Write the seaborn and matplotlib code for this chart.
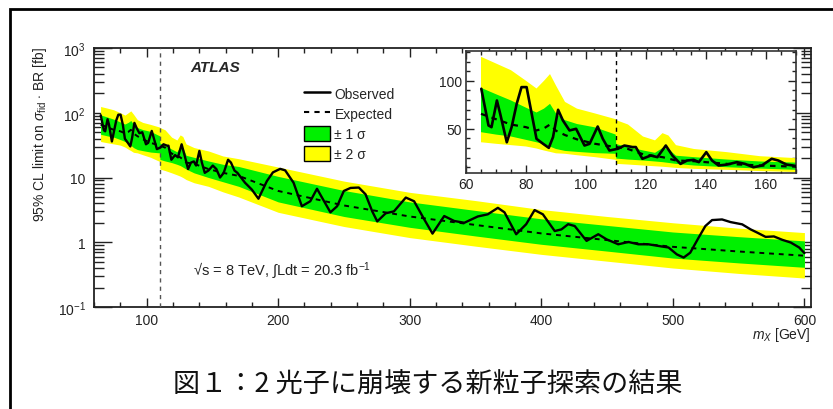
import matplotlib
matplotlib.use("Agg")
import matplotlib.pyplot as plt
import seaborn as sns
import pandas as pd
from matplotlib.lines import Line2D
from matplotlib.patches import Patch, Rectangle
from matplotlib.ticker import FixedLocator, LogLocator, MultipleLocator, NullFormatter

# === data ===
# band edges / expected limit [fb] vs mass [GeV]
band_mass = [65, 70, 75, 80, 83.5, 86, 88, 90, 93, 97, 103, 109.9, 110.1, 114, 119, 123,
             125.5, 127.5, 130, 136, 147, 158, 170, 200, 250, 300, 350, 400, 450, 500, 550, 600]
expected = [65.6, 60, 54.5, 51.7, 48.3, 50.5, 54.5, 48, 43.5, 39, 34.4, 31, 31, 29, 23.5, 21.5,
            20.5, 19, 17, 16.3, 13.5, 11.8, 10.6, 6.2, 3.7, 2.5, 1.85, 1.37, 1.08, 0.85, 0.72, 0.62]
sig1_hi = [92.7, 86, 79.5, 72, 67, 71, 76, 66, 59, 55, 51.5, 44, 34, 31, 27.5, 25,
           30, 29, 22, 20.5, 18, 16, 14.8, 10.4, 6.3, 4.2, 3.1, 2.3, 1.82, 1.44, 1.22, 1.05]
sig1_lo = [46.5, 44, 42, 38.5, 36, 34, 31.5, 29, 27, 26, 24.7, 24, 19, 18, 17, 16,
           15.3, 14.5, 13.5, 11.8, 10, 8.6, 7.3, 4.2, 2.5, 1.7, 1.25, 0.93, 0.73, 0.57, 0.48, 0.41]
sig2_hi = [125, 118, 111, 100, 92, 100, 107, 95, 78, 71, 66, 60, 59, 54.5, 42, 38,
           45.5, 43, 33, 29, 25.7, 21.5, 19.5, 14.5, 8.8, 5.9, 4.4, 3.2, 2.5, 2.0, 1.65, 1.41]
sig2_lo = [36, 34.4, 33, 31.6, 29.5, 27.4, 26, 24.5, 24, 22.5, 20.5, 17.7, 13.5, 12.8, 11.8, 11,
           10.5, 10, 9.3, 8.3, 7.3, 6, 5, 2.9, 1.75, 1.18, 0.87, 0.65, 0.51, 0.40, 0.33, 0.28]

obs_mass = [65.1, 67.5, 68.5, 70.3, 71.4, 73.6, 75.2, 76.9, 78.5, 80.2, 81.9, 83.5, 85.7, 87.6,
            89.0, 90.7, 92.3, 94.5, 96.7, 99.5, 101.2, 103.9, 105.6, 107.8, 110.6, 112.8, 115.5,
            116.6, 118.8, 121.6, 123.8, 126.6, 128.8, 131.5, 133.7, 135.9, 137.6, 140.1, 142.0,
            144.2, 147.0, 150.3, 153.0, 155.8, 158.6, 161.9, 164.1, 166.8, 169.0,
            174.8, 180, 185, 191.4, 196, 201.5, 205.3, 211.7, 218, 224.4, 229.5, 233.3, 239.7,
            244.8, 249.9, 255, 261.3, 266.4, 271.5, 275.3, 281.7, 288, 297, 303.3, 311, 317.3,
            326.2, 333.8, 341.5, 351.7, 359.3, 367, 372, 380.9, 388.5, 394.9, 401.2, 410.2,
            415.3, 420.4, 425.4, 434.4, 443.3, 449.6, 458.5, 466.2, 473.8, 481.4, 491.6, 496.7,
            503, 508.2, 513.2, 519.6, 524.7, 529.8, 537.4, 543.8, 552.7, 559.1, 564.1, 570.5,
            576.8, 583.2, 589.6, 596, 600]
observed = [91.7, 53.5, 51.7, 79.5, 65.6, 36, 51.7, 76, 93.4, 93.4, 65.6, 39.6, 34.4, 30.2,
            41.3, 69.8, 58.7, 48.3, 50, 32.6, 34.4, 52.4, 39.6, 27.4, 29.2, 32.6, 31,
            31, 18.8, 22.2, 20.5, 32.6, 22.2, 13.5, 17, 17.7, 15.3, 25.7, 17,
            11.8, 12.8, 15.3, 13.5, 10, 11.8, 18.8, 17, 12.8, 11.8,
            8.3, 6.5, 4.7, 8.8, 12.0, 13.6, 12.9, 8.3, 3.6, 4.3, 6.7, 4.9, 2.9,
            3.6, 6.2, 6.9, 7.0, 5.5, 3.0, 2.1, 2.8, 3.0, 4.9, 4.3, 2.26, 1.36,
            2.54, 2.13, 2.0, 2.5, 2.7, 3.4, 2.9, 1.33, 1.9, 3.14, 2.7, 1.49,
            1.58, 1.9, 1.78, 1.05, 1.33, 1.11, 0.93, 1.01, 0.93, 0.93, 0.86, 0.83,
            0.65, 0.58, 0.69, 1.18, 1.78, 2.2, 2.25, 2.05, 1.89, 1.58, 1.41, 1.21,
            1.23, 1.09, 0.99, 0.83, 0.68]

bands = pd.DataFrame({"mass": band_mass, "expected": expected,
                      "hi1": sig1_hi, "lo1": sig1_lo, "hi2": sig2_hi, "lo2": sig2_lo})
obs = pd.DataFrame({"mass": obs_mass, "observed": observed})

caption = "図１：2 光子に崩壊する新粒子探索の結果"
GREEN = "#00f000"
YELLOW = "#ffff00"

# === style ===
sns.set_style("ticks")
plt.rcParams["font.family"] = ["Liberation Sans", "DejaVu Sans"]
plt.rcParams["mathtext.fontset"] = "custom"
plt.rcParams["mathtext.rm"] = "Liberation Sans"
plt.rcParams["mathtext.it"] = "Liberation Sans:italic"
plt.rcParams["mathtext.bf"] = "Liberation Sans:bold"

fig = plt.figure(figsize=(8.33, 4.10), dpi=100)
fig.patch.set_facecolor("white")

# outer frame of the document figure
fig.patches.append(Rectangle((10 / 833, -0.05), 1.0, 1 - 10 / 410 + 0.05,
                             transform=fig.transFigure, fill=False,
                             edgecolor="black", linewidth=2.0))


def draw_limits(ax, lw_obs, lw_exp):
    ax.fill_between(bands["mass"], bands["lo2"], bands["hi2"], color=YELLOW, lw=0, zorder=1)
    ax.fill_between(bands["mass"], bands["lo1"], bands["hi1"], color=GREEN, lw=0, zorder=2)
    sns.lineplot(data=bands, x="mass", y="expected", ax=ax, color="black",
                 lw=lw_exp, linestyle=(0, (2.5, 2.5)), zorder=4)
    sns.lineplot(data=obs, x="mass", y="observed", ax=ax, color="black",
                 lw=lw_obs, zorder=5)


# === main panel ===
ax = fig.add_axes([94 / 833, 1 - 308 / 410, 717 / 833, 259 / 410])
draw_limits(ax, 1.7, 1.4)
ax.axvline(110, color="#555555", lw=1.0, linestyle=(0, (3, 3)), zorder=3)
ax.set_yscale("log")
ax.set_xlim(60, 605)
ax.set_ylim(0.1, 1000)
ax.yaxis.set_major_locator(FixedLocator([0.1, 1, 10, 100, 1000]))
ax.set_yticklabels([r"10$^{\mathregular{-1}}$", "1", "10", r"10$^{\mathregular{2}}$",
                    r"10$^{\mathregular{3}}$"])
ax.yaxis.set_minor_locator(LogLocator(base=10, subs=range(2, 10)))
ax.yaxis.set_minor_formatter(NullFormatter())
ax.xaxis.set_major_locator(FixedLocator([100, 200, 300, 400, 500, 600]))
ax.xaxis.set_minor_locator(MultipleLocator(20))
ax.tick_params(which="both", direction="in", top=True, right=True, labelsize=10,
               colors="#222222", width=1.0)
ax.tick_params(axis="y", which="major", length=13, pad=6)
ax.tick_params(axis="y", which="minor", length=7)
ax.tick_params(axis="x", which="major", length=6.5, pad=4)
ax.tick_params(axis="x", which="minor", length=3.5)
for s in ax.spines.values():
    s.set_linewidth(1.3)
    s.set_color("#222222")
ax.set_xlabel("")
ax.set_ylabel("")

fig.text(40 / 833, 1 - 47 / 410, r"95% CL limit on $\sigma_{\mathregular{fid}}$ $\cdot$ BR [fb]",
         rotation=90, ha="center", va="top", fontsize=10, color="#222222")
fig.text(811 / 833, 1 - 335 / 410, r"$m_X$ [GeV]", ha="right", va="center",
         fontsize=10, color="#222222")

ax.text(0.134, 0.927, "ATLAS", transform=ax.transAxes, fontsize=11,
        fontweight="bold", fontstyle="italic", va="center", ha="left")
ax.text(0.138, 0.145, r"√s = 8 TeV, ∫Ldt = 20.3 fb$^{\mathregular{-1}}$", transform=ax.transAxes,
        fontsize=10.5, va="center", ha="left", color="#222222")

handles = [Line2D([], [], color="black", lw=1.8),
           Line2D([], [], color="black", lw=1.5, linestyle=(0, (2.5, 2.5))),
           Patch(facecolor=GREEN, edgecolor="black", lw=1.0),
           Patch(facecolor=YELLOW, edgecolor="black", lw=1.0)]
labels = ["Observed", "Expected", "± 1 σ", "± 2 σ"]
ax.legend(handles, labels, loc="upper left", bbox_to_anchor=(0.285, 0.875),
          frameon=False, fontsize=10, handlelength=1.9, handleheight=1.3,
          handletextpad=0.3, labelspacing=0.35, borderaxespad=0)

# === inset ===
axi = fig.add_axes([466 / 833, 1 - 174 / 410, 330 / 833, 122 / 410])
axi.set_facecolor("white")
draw_limits(axi, 1.9, 1.6)
axi.axvline(110, color="black", lw=1.0, linestyle=(0, (3, 3)), zorder=3)
axi.set_xlim(60, 170)
axi.set_ylim(4, 131)
axi.xaxis.set_major_locator(MultipleLocator(20))
axi.xaxis.set_minor_locator(MultipleLocator(5))
axi.yaxis.set_major_locator(MultipleLocator(50))
axi.yaxis.set_minor_locator(MultipleLocator(10))
axi.tick_params(which="both", direction="in", top=True, right=True, labelsize=10,
                colors="#222222", width=1.0)
axi.tick_params(which="major", length=6, pad=3)
axi.tick_params(which="minor", length=3)
for s in axi.spines.values():
    s.set_linewidth(1.2)
    s.set_color("#333333")
axi.set_xlabel("")
axi.set_ylabel("")

# === caption ===
fig.text(0.514, 1 - 385 / 410, caption, ha="center", va="center", fontsize=19.5,
         family=["Noto Sans CJK JP", "DejaVu Sans"], color="#111111")

fig.savefig("out.png", dpi=100)
